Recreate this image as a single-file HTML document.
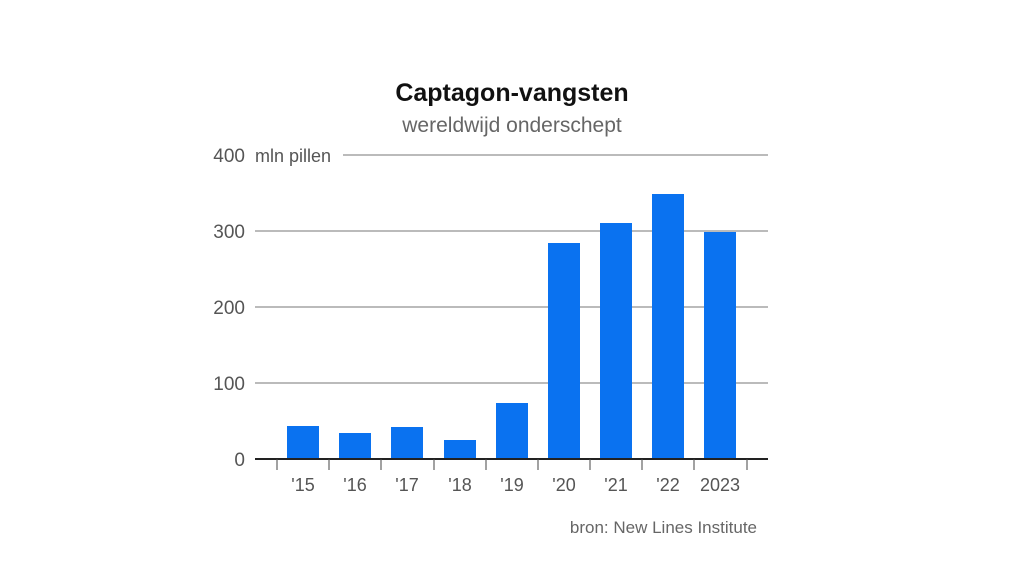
<!DOCTYPE html>
<html><head><meta charset="utf-8"><style>
body{margin:0;background:#fff;}
svg{display:block;font-family:"Liberation Sans",sans-serif;}
</style></head><body>
<svg width="1024" height="576" viewBox="0 0 1024 576">
<text x="512" y="101" text-anchor="middle" font-size="25" font-weight="bold" fill="#111">Captagon-vangsten</text>
<text x="512" y="132" text-anchor="middle" font-size="21" fill="#666">wereldwijd onderschept</text>
<g stroke="#777" stroke-width="1">
<line x1="343" y1="155" x2="768" y2="155"/>
<line x1="255" y1="231" x2="768" y2="231"/>
<line x1="255" y1="307" x2="768" y2="307"/>
<line x1="255" y1="383" x2="768" y2="383"/>
</g>
<g font-size="19" fill="#555" text-anchor="end">
<text x="245" y="162">400</text>
<text x="245" y="238">300</text>
<text x="245" y="314">200</text>
<text x="245" y="390">100</text>
<text x="245" y="466">0</text>
</g>
<text x="255" y="162" font-size="18" fill="#555">mln pillen</text>
<g fill="#0a72f0">
<rect x="287" y="426" width="32" height="33"/>
<rect x="339" y="433" width="32" height="26"/>
<rect x="391" y="427" width="32" height="32"/>
<rect x="444" y="440" width="32" height="19"/>
<rect x="496" y="403" width="32" height="56"/>
<rect x="548" y="243" width="32" height="216"/>
<rect x="600" y="223" width="32" height="236"/>
<rect x="652" y="194" width="32" height="265"/>
<rect x="704" y="232" width="32" height="227"/>
</g>
<line x1="255" y1="459" x2="768" y2="459" stroke="#222" stroke-width="2"/>
<g stroke="#444" stroke-width="1">
<line x1="277" y1="459" x2="277" y2="470"/><line x1="329" y1="459" x2="329" y2="470"/>
<line x1="381" y1="459" x2="381" y2="470"/><line x1="434" y1="459" x2="434" y2="470"/>
<line x1="486" y1="459" x2="486" y2="470"/><line x1="538" y1="459" x2="538" y2="470"/>
<line x1="590" y1="459" x2="590" y2="470"/><line x1="642" y1="459" x2="642" y2="470"/>
<line x1="694" y1="459" x2="694" y2="470"/><line x1="747" y1="459" x2="747" y2="470"/>
</g>
<g font-size="18" fill="#555" text-anchor="middle">
<text x="303" y="491">'15</text><text x="355" y="491">'16</text><text x="407" y="491">'17</text>
<text x="460" y="491">'18</text><text x="512" y="491">'19</text><text x="564" y="491">'20</text>
<text x="616" y="491">'21</text><text x="668" y="491">'22</text><text x="720" y="491">2023</text>
</g>
<text x="757" y="533" text-anchor="end" font-size="17" fill="#666">bron: New Lines Institute</text>
</svg>
</body></html>
